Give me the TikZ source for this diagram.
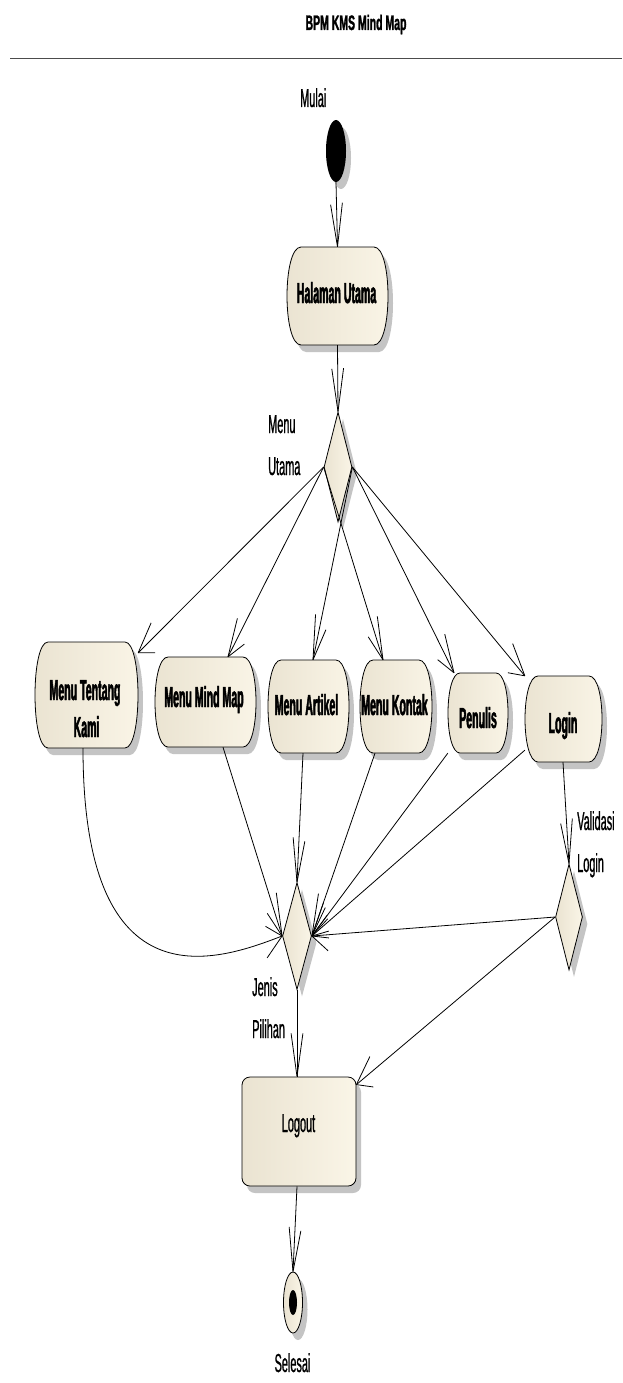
\documentclass[tikz,border=0pt]{standalone}
\usepackage{fontspec}
\setmainfont{Liberation Sans}
\newfontfamily\fbold{Liberation Sans}[FakeStretch=0.365,FakeBold=1.6]
\newfontfamily\freg{Liberation Sans}[FakeStretch=0.42,FakeBold=0.8]
\newfontfamily\ftitle{Liberation Sans}[FakeStretch=0.5,FakeBold=1.2]
\usetikzlibrary{calc,shapes.geometric,shadows}
\definecolor{fillL}{RGB}{234,227,209}
\definecolor{fillR}{RGB}{250,245,231}
\definecolor{shd}{RGB}{196,196,196}
\tikzset{
  ln/.style={line width=0.8pt, draw=black},
  shadowed/.style={drop shadow={shadow xshift=5pt, shadow yshift=-7pt, fill=shd, opacity=1}},
  act/.style={left color=fillL, right color=fillR, draw=black, line width=0.8pt, shadowed},
  anc/.style={rectangle, inner sep=0pt, draw=none},
  dia/.style={diamond, inner sep=0pt, act},
  bl/.style={font=\fbold\bfseries\fontsize{29}{35}\selectfont, inner sep=0pt, anchor=base},
  rl/.style={font=\freg\fontsize{26}{32}\selectfont, inner sep=0pt, anchor=base west},
}
% activity outline: x1 y1 x2 y2 c
\newcommand\actpath[5]{({#1+#5},#2) -- ({#3-#5},#2) .. controls ({#3+#5/3},#2) and ({#3+#5/3},#4) .. ({#3-#5},#4) -- ({#1+#5},#4) .. controls ({#1-#5/3},#4) and ({#1-#5/3},#2) .. ({#1+#5},#2) -- cycle}
\newcommand\barbs[2]{%
  \draw[ln] let \p1=(#1), \p2=(#2), \n1={atan2(\y1-\y2,(\x1-\x2)/0.37)} in
    (\p2) -- ++({0.37*46*cos(\n1+20.3)*1pt},{46*sin(\n1+20.3)*1pt})
    (\p2) -- ++({0.37*46*cos(\n1-20.3)*1pt},{46*sin(\n1-20.3)*1pt});}
\newcommand\conn[2]{\draw[ln] (#1) -- (#2); \barbs{#1}{#2}}
\begin{document}
\begin{tikzpicture}[x=1pt,y=-1pt]
\fill[white] (0,0) rectangle (622,1383);
\useasboundingbox (0,0) rectangle (622,1383);

% title
\node[font=\ftitle\bfseries\fontsize{21}{25}\selectfont, anchor=base, inner sep=0pt] (title) at (356,30) {BPM KMS Mind Map};
\draw[line width=1pt, black!70] (10,59) -- (622,59);

% start
\node[ellipse, minimum width=20pt, minimum height=62pt, inner sep=0pt, fill=black, shadowed] (st) at (336,151) {};

% activity boxes
\path[act] \actpath{287}{247}{388}{345}{14};
\node[anc, minimum width=101pt, minimum height=98pt] (hu) at (337.5,296) {};
\path[act] \actpath{35}{642}{138}{748}{13};
\node[anc, minimum width=103pt, minimum height=106pt] (tk) at (86.5,695) {};
\path[act] \actpath{155}{657}{256}{747}{13};
\node[anc, minimum width=101pt, minimum height=90pt] (mm) at (205.5,702) {};
\path[act] \actpath{268}{660}{349}{753}{13};
\node[anc, minimum width=81pt, minimum height=93pt] (ar) at (308.5,706.5) {};
\path[act] \actpath{360}{660}{432}{753}{13};
\node[anc, minimum width=72pt, minimum height=93pt] (ko) at (396,706.5) {};
\path[act] \actpath{448}{673}{508}{753}{12};
\node[anc, minimum width=60pt, minimum height=80pt] (pe) at (478,713) {};
\path[act] \actpath{525}{676}{602}{762}{13};
\node[anc, minimum width=77pt, minimum height=86pt] (li) at (563.5,719) {};

% decisions
\node[dia, minimum width=28pt, minimum height=110pt] (mu) at (338,467) {};
\node[dia, minimum width=29pt, minimum height=107pt] (jp) at (297,936) {};
\node[dia, minimum width=27pt, minimum height=106pt] (vl) at (569,917) {};

% logout
\node[rectangle, rounded corners=8pt, minimum width=114pt, minimum height=109pt, inner sep=0pt, act] (lo) at (299,1131.5) {};

% end
\node[ellipse, minimum width=19pt, minimum height=61pt, inner sep=0pt, act] (en) at (293,1302.5) {};
\fill[black] (en.center) ellipse [x radius=4pt, y radius=12.5pt];

% connectors
\conn{st.south}{hu.north}
\conn{hu.south}{mu.north}
\conn{mu.west}{[yshift=-11pt]tk.north east}
\conn{mu.west}{[xshift=22.5pt]mm.north}
\conn{mu.east}{[xshift=4.5pt]ar.north}
\conn{mu.west}{[xshift=-13pt]ko.north}
\conn{mu.east}{[xshift=-24pt]pe.north}
\conn{mu.east}{li.north west}
\draw[ln] ([xshift=-3.5pt]tk.south) .. controls (83,1010) and (220,960) .. (jp.west);
\barbs{220,960}{jp.west}
\conn{[xshift=17.5pt]mm.south}{jp.west}
\conn{[xshift=-5.5pt]ar.south}{jp.north}
\conn{[xshift=-21pt]ko.south}{jp.east}
\conn{pe.south west}{jp.east}
\conn{[yshift=12pt]li.south west}{jp.east}
\conn{vl.west}{jp.east}
\conn{[xshift=-0.5pt]li.south}{vl.north}
\conn{vl.west}{[yshift=-8pt]lo.north east}
\conn{jp.south}{[xshift=-2pt]lo.north}
\conn{[xshift=-2pt]lo.south}{en.north}

% texts
\node[bl] (thu) at (336.5,303) {Halaman Utama};
\node[bl] (ttk1) at (85,700) {Menu Tentang};
\node[bl] (ttk2) at (86.5,737) {Kami};
\node[bl] (tmm) at (204,707) {Menu Mind Map};
\node[bl] (tar) at (306.5,715) {Menu Artikel};
\node[bl] (tko) at (394.5,715) {Menu Kontak};
\node[bl] (tpe) at (478,728) {Penulis};
\node[bl] (tli) at (563,733) {Login};

\node[rl] (lmulai) at (300,107) {Mulai};
\node[rl] (lmu1) at (268,433) {Menu};
\node[rl] (lmu2) at (268,475) {Utama};
\node[rl] (lvl1) at (577,830) {Validasi};
\node[rl] (lvl2) at (577,872) {Login};
\node[rl] (ljp1) at (252,996) {Jenis};
\node[rl] (ljp2) at (252,1038) {Pilihan};
\node[rl, anchor=base] (llo) at (298.5,1132) {Logout};
\node[rl, anchor=base] (lsel) at (292.5,1372) {Selesai};
\end{tikzpicture}
\end{document}
